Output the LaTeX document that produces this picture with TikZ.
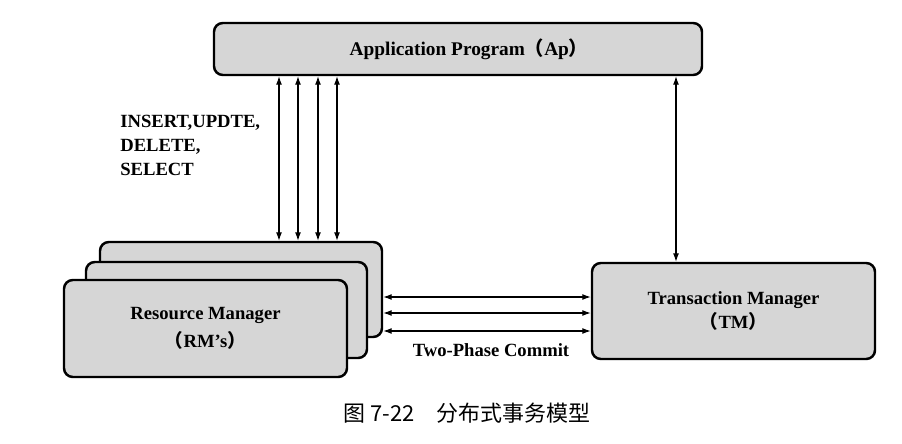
\documentclass[tikz,border=0pt]{standalone}
\usepackage{fontspec}
\setmainfont{Liberation Serif}
\newfontfamily\cjk{Noto Sans CJK SC}
\usetikzlibrary{arrows.meta}
\definecolor{Box}{HTML}{D6D6D6}

\begin{document}
\begin{tikzpicture}[
    box/.style={draw=black,fill=Box,line width=1.4pt,rounded corners=5pt,
      minimum width=5.66cm,minimum height=1.92cm},
    lbl/.style={font=\fontsize{10.6}{13.6}\selectfont\bfseries,align=center},
    link/.style={line width=0.6pt,{Latex[length=1.7mm,width=1.2mm]}-{Latex[length=1.7mm,width=1.2mm]}}
  ]
    \useasboundingbox (0,0) rectangle (18.04,-8.86);
    \node[box,minimum width=9.76cm,minimum height=1.04cm] (ap) at (9.16,-0.98) {};
    \node[lbl,font=\fontsize{11}{14}\selectfont\bfseries] (aptext) at (9.38,-0.98)
      {Application Program{\cjk （}Ap{\cjk ）}};
    \node[box,minimum width=5.64cm,minimum height=1.90cm] (rm3) at (4.82,-5.79) {};
    \node[box,minimum width=5.62cm] (rm2) at (4.53,-6.20) {};
    \node[box,lbl,minimum height=1.94cm] (rm1) at (4.11,-6.57)
      {Resource Manager\\[2pt]{\cjk （}RM’s{\cjk ）}};
    \node[box,lbl] (tm) at (14.67,-6.22)
      {Transaction Manager\\{\cjk （}TM{\cjk ）}};
    \foreach \x in {5.58,5.96,6.36,6.74}
      \draw[link] (ap.south -| \x,0) -- (rm3.north -| \x,0);
    \draw[link] (ap.south -| 13.52,0) -- (tm.north -| 13.52,0);
    \foreach \y in {-5.94,-6.26,-6.62}
      \draw[link] (rm3.east |- 0,\y) -- (tm.west |- 0,\y);
    \node[lbl,align=left,anchor=north west,inner sep=0pt] (ops) at (2.4,-2.3)
      {INSERT,UPDTE,\\DELETE,\\SELECT};
    \node[lbl] (commit) at (9.82,-7.00) {Two-Phase Commit};
    \node[font=\cjk\fontsize{12.5}{15}\selectfont] (caption) at (9.34,-8.26)
      {图 7-22\hspace{1em}分布式事务模型};
  \end{tikzpicture}
\end{document}
